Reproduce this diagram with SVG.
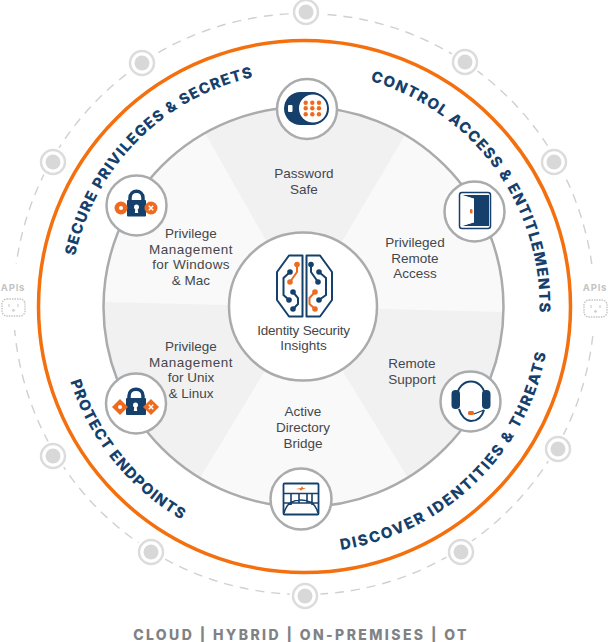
<svg xmlns="http://www.w3.org/2000/svg" xmlns:xlink="http://www.w3.org/1999/xlink" width="608" height="642" viewBox="0 0 608 642">
<style>
.lbl{font-family:"Liberation Sans",Arial,sans-serif;font-size:13.500px;fill:#45474a;text-anchor:middle}
.arc{font-family:Inter,"Liberation Sans",sans-serif;font-weight:800;font-size:15px;letter-spacing:1.100px;fill:#15406b;text-anchor:middle}
.sat{fill:#fff;stroke:#fff;stroke-width:6}
.satr{fill:#fff;stroke:#dcdcdc;stroke-width:2.500}
.satd{fill:#d8d8d8}
.ic{fill:#fff;stroke:#a9abad;stroke-width:2.500}
.n{fill:#15406b}.o{fill:#ee6a1f}
.ns{fill:none;stroke:#15406b;stroke-width:2}
.os{fill:none;stroke:#ee6a1f;stroke-width:2}
.api{font-family:Inter,"Liberation Sans",sans-serif;font-weight:700;font-size:9.500px;letter-spacing:.8px;fill:#c4c4c4;text-anchor:middle}
.out{fill:#fff;stroke:#c4c4c4;stroke-width:1.400;stroke-dasharray:1.500 1}
</style>
<defs>
<path id="a1" d="M70.400 286A235 235 0 0 1 284 72.400"/>
<path id="a2" d="M361.300 78.500A235 235 0 0 1 538.900 322.900"/>
<path id="a3" d="M325.900 551.600A246 246 0 0 0 548.700 336.500"/>
<path id="a4" d="M63.900 357.600A246 246 0 0 0 204.400 531.200"/>
</defs>
<rect width="608" height="642" fill="#fff"/>
<g id="connectors">
<circle cx="304" cy="304" r="290.500" fill="none" stroke="#d0d0d0" stroke-width="1.400" stroke-dasharray="9 7"/>
<rect x="574" y="264" width="34" height="66" fill="#fff"/>
<rect x="0" y="264" width="34" height="66" fill="#fff"/>
</g>
<g id="outer-ring"><circle cx="304.500" cy="306.500" r="266" fill="#fff" stroke="#f4700f" stroke-width="3.500"/></g>
<g id="wheel">
<circle cx="303.500" cy="307" r="200" fill="#f9f9fa"/>
<path d="M303.500 307L405 135A200 200 0 0 0 205 133Z" fill="#f1f1f2"/>
<path d="M303.500 307L503.500 312A200 200 0 0 1 408 478Z" fill="#f1f1f2"/>
<path d="M303.500 307L200 478A200 200 0 0 1 103.500 302Z" fill="#f1f1f2"/>
<circle cx="303.500" cy="307" r="200" fill="none" stroke="#a9abad" stroke-width="2.500"/>
</g>
<g id="sat-top"><circle class="sat" cx="306" cy="12" r="12.500"/><circle class="satr" cx="306" cy="12" r="12"/><circle class="satd" cx="306" cy="12" r="7.500"/></g>
<g id="sat-tr"><circle class="sat" cx="465" cy="62" r="12.500"/><circle class="satr" cx="465" cy="62" r="12"/><circle class="satd" cx="465" cy="62" r="7.500"/></g>
<g id="sat-r1"><circle class="sat" cx="554" cy="162" r="12.500"/><circle class="satr" cx="554" cy="162" r="12"/><circle class="satd" cx="554" cy="162" r="7.500"/></g>
<g id="sat-r2"><circle class="sat" cx="558" cy="449" r="12.500"/><circle class="satr" cx="558" cy="449" r="12"/><circle class="satd" cx="558" cy="449" r="7.500"/></g>
<g id="sat-br"><circle class="sat" cx="461" cy="552" r="12.500"/><circle class="satr" cx="461" cy="552" r="12"/><circle class="satd" cx="461" cy="552" r="7.500"/></g>
<g id="sat-bottom"><circle class="sat" cx="305" cy="596" r="12.500"/><circle class="satr" cx="305" cy="596" r="12"/><circle class="satd" cx="305" cy="596" r="7.500"/></g>
<g id="sat-bl"><circle class="sat" cx="151" cy="552" r="12.500"/><circle class="satr" cx="151" cy="552" r="12"/><circle class="satd" cx="151" cy="552" r="7.500"/></g>
<g id="sat-l2"><circle class="sat" cx="53" cy="456" r="12.500"/><circle class="satr" cx="53" cy="456" r="12"/><circle class="satd" cx="53" cy="456" r="7.500"/></g>
<g id="sat-l1"><circle class="sat" cx="53" cy="162" r="12.500"/><circle class="satr" cx="53" cy="162" r="12"/><circle class="satd" cx="53" cy="162" r="7.500"/></g>
<g id="sat-tl"><circle class="sat" cx="142" cy="63" r="12.500"/><circle class="satr" cx="142" cy="63" r="12"/><circle class="satd" cx="142" cy="63" r="7.500"/></g>
<g id="apis-left"><text class="api" x="13" y="291">APIs</text><rect class="out" x="2" y="299" width="23" height="17" rx="5"/><path d="M9 304v3M18 304v3M12.500 311l1-2 1 2z" fill="none" stroke="#c4c4c4"/></g>
<g id="apis-right"><text class="api" x="595" y="291">APIs</text><rect class="out" x="584" y="300" width="23" height="17" rx="5"/><path d="M591 305v3M600 305v3M594.500 312l1-2 1 2z" fill="none" stroke="#c4c4c4"/></g>
<g id="labels-curved">
<text class="arc"><textPath xlink:href="#a1" href="#a1" startOffset="50%">SECURE PRIVILEGES &amp; SECRETS</textPath></text>
<text class="arc" style="letter-spacing:1.200px"><textPath xlink:href="#a2" href="#a2" startOffset="50%">CONTROL ACCESS &amp; ENTITLEMENTS</textPath></text>
<text class="arc" style="letter-spacing:1.800px"><textPath xlink:href="#a3" href="#a3" startOffset="50%">DISCOVER IDENTITIES &amp; THREATS</textPath></text>
<text class="arc"><textPath xlink:href="#a4" href="#a4" startOffset="50%">PROTECT ENDPOINTS</textPath></text>
</g>
<g id="password-safe">
<circle class="ic" cx="307" cy="109" r="30"/>
<rect class="n" x="284" y="92" width="44" height="33" rx="16.500"/>
<circle cx="313" cy="108.500" r="15" fill="#fff" stroke="#15406b" stroke-width="2"/>
<rect x="288" y="105" width="4.500" height="7" rx="1" fill="#fff"/>
<g class="o"><circle cx="305.700" cy="102.700" r="2.200"/><circle cx="312.300" cy="102.700" r="2.200"/><circle cx="319" cy="102.700" r="2.200"/><circle cx="305.700" cy="108.300" r="2.200"/><circle cx="312.300" cy="108.300" r="2.200"/><circle cx="319" cy="108.300" r="2.200"/><circle cx="305.700" cy="114.300" r="2.200"/><circle cx="312.300" cy="114.300" r="2.200"/><circle cx="319" cy="114.300" r="2.200"/></g>
<text class="lbl" x="304" y="178">Password</text><text class="lbl" x="304" y="194">Safe</text>
</g>
<g id="remote-access">
<circle class="ic" cx="474.500" cy="211.500" r="30"/>
<rect x="459.500" y="192.500" width="31" height="36" rx="2.500" fill="#fff" stroke="#15406b" stroke-width="1.500"/>
<path class="n" d="M462 195H489V226H462L475 222V199Z"/>
<path d="M462 195L475 199V222L462 226Z" fill="#fff"/>
<rect class="n" x="474" y="198" width="15" height="25"/>
<rect class="o" x="470" y="209" width="2.500" height="4.500" rx="1"/>
<text class="lbl" x="415" y="247">Privileged</text><text class="lbl" x="415" y="263">Remote</text><text class="lbl" x="415" y="278">Access</text>
</g>
<g id="remote-support">
<circle class="ic" cx="470.500" cy="401.500" r="30"/>
<path class="ns" d="M457 398C457 376 485 376 485 398M459 409C461 416 466 421 471 421C477 421 482 417 484 410"/>
<rect class="n" x="451.500" y="390" width="8.500" height="19" rx="4"/><rect class="n" x="482" y="390" width="8.500" height="19" rx="4"/>
<path d="M474 414L484 410" fill="none" stroke="#15406b" stroke-width="1.200"/>
<rect class="o" x="468" y="411" width="6" height="4" rx="1.500"/>
<text class="lbl" x="412" y="368">Remote</text><text class="lbl" x="412" y="384">Support</text>
</g>
<g id="directory-bridge">
<circle class="ic" cx="301" cy="499" r="30.500"/>
<rect x="283.500" y="483.500" width="35" height="31" rx="1" fill="#fff" stroke="#15406b" stroke-width="1.800"/>
<path d="M284 493.500H318M284 503H318M291 493.500V505M299 493.500V503M307 493.500V503M312 493.500V505M284 513Q287 500 301 500Q315 500 318 513" fill="none" stroke="#15406b" stroke-width="1.600"/>
<path class="o" d="M296 489L301 488L302 486L303 488L306 488.500L302 489.500L301 491L300 489.500Z"/>
<text class="lbl" x="303" y="416">Active</text><text class="lbl" x="303" y="432">Directory</text><text class="lbl" x="303" y="448">Bridge</text>
</g>
<g id="unix-linux">
<circle class="ic" cx="136" cy="403.500" r="30"/>
<path fill="none" stroke="#15406b" stroke-width="3.500" d="M129 400V396C129 387 143 387 143 396V400"/>
<rect class="n" x="126" y="398" width="20" height="17" rx="1"/>
<circle cx="135.500" cy="405" r="2.500" fill="#fff"/><path d="M134.500 405h2l.7 6h-3.400z" fill="#fff"/>
<path class="o" d="M120 399L128 407L120 415L112 407Z"/><path class="o" d="M151 399L159 407L151 415L143 407Z"/>
<circle cx="120" cy="407" r="2" fill="#fff"/><path d="M148.800 404.800L153.200 409.200M153.200 404.800L148.800 409.200" stroke="#fff" stroke-width="1.500"/>
<text class="lbl" x="191" y="351">Privilege</text><text class="lbl" x="191" y="367" style="letter-spacing:.5px">Management</text><text class="lbl" x="191" y="382">for Unix</text><text class="lbl" x="191" y="398">&amp; Linux</text>
</g>
<g id="windows-mac">
<circle class="ic" cx="136.500" cy="205.500" r="30"/>
<path fill="none" stroke="#15406b" stroke-width="3.500" d="M130 202V198C130 189 143 189 143 198V202"/>
<rect class="n" x="127" y="200" width="19" height="16.500" rx="1"/>
<circle cx="136.500" cy="207" r="2.500" fill="#fff"/><path d="M135.500 207h2l.7 6h-3.400z" fill="#fff"/>
<circle class="o" cx="121" cy="208" r="6.500"/><circle class="o" cx="151" cy="208" r="6.500"/>
<circle cx="121" cy="208" r="2" fill="#fff"/><path d="M148.800 205.800L153.200 210.200M153.200 205.800L148.800 210.200" stroke="#fff" stroke-width="1.500"/>
<text class="lbl" x="191" y="238">Privilege</text><text class="lbl" x="191" y="254" style="letter-spacing:.5px">Management</text><text class="lbl" x="191" y="269" style="letter-spacing:.3px">for Windows</text><text class="lbl" x="191" y="285">&amp; Mac</text>
</g>
<g id="insights">
<circle class="ic" cx="303" cy="306.500" r="74"/>
<path class="ns" stroke-linejoin="round" d="M302.500 255.500H289L277 272V300L289 316.500H302.500ZM306.500 255.500H320L332 272V300L320 316.500H306.500Z"/>
<path class="os" d="M297 264V272L290 282"/>
<path class="ns" d="M290 272L283.500 278V295L289 300M293 292L298 298V304L293 309M311 264V272L318 282M319 272L326 278V295L319 300"/>
<path class="os" d="M315 292L309.500 298V304L315 309"/>
<circle class="o" cx="297" cy="264.500" r="2.800"/><circle class="o" cx="290" cy="282" r="2.800"/>
<circle class="n" cx="290" cy="272" r="2.800"/><circle class="n" cx="289" cy="300" r="2.800"/><circle class="n" cx="293" cy="292" r="2.800"/><circle class="n" cx="293" cy="309" r="2.800"/>
<circle class="n" cx="311" cy="264.500" r="2.800"/><circle class="n" cx="318" cy="282" r="2.800"/><circle class="n" cx="319" cy="272" r="2.800"/><circle class="n" cx="319" cy="300" r="2.800"/>
<circle class="o" cx="315" cy="292" r="2.800"/><circle class="o" cx="315" cy="309" r="2.800"/>
<text class="lbl" x="303.500" y="335" style="letter-spacing:-.2px">Identity Security</text><text class="lbl" x="303.500" y="350">Insights</text>
</g>
<g id="footer"><text x="301" y="640" text-anchor="middle" font-family="Inter,'Liberation Sans',sans-serif" font-weight="800" font-size="14" letter-spacing="2.400" fill="#808285">CLOUD | HYBRID | ON-PREMISES | OT</text></g>
</svg>
